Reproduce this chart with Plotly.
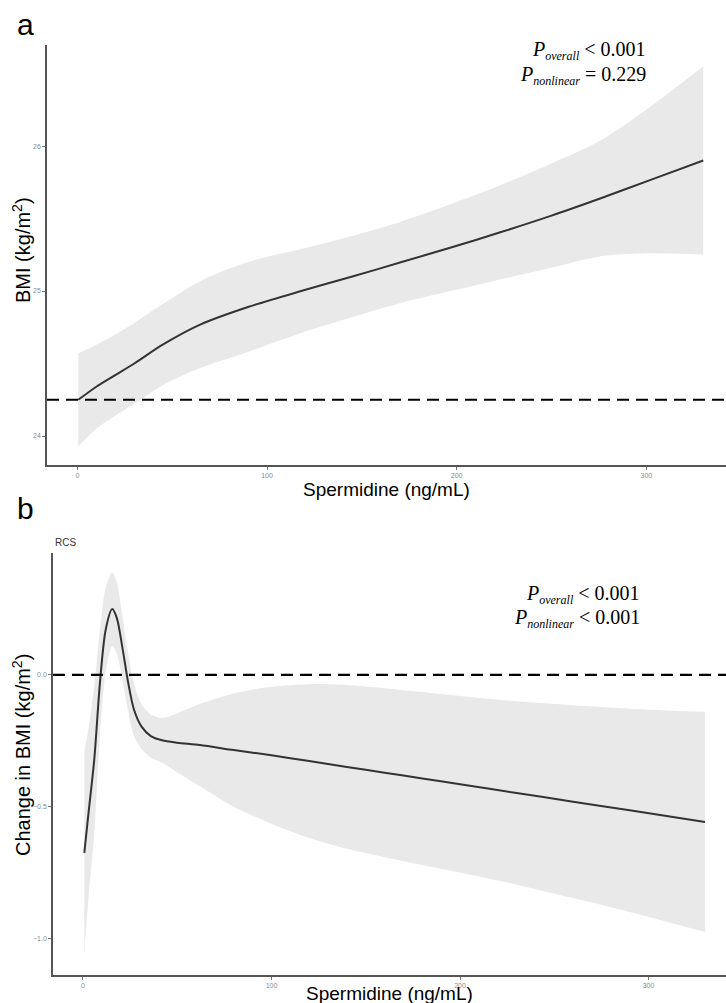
import plotly.graph_objects as go

W, H = 726, 1003

# ---------------- Panel a data (BMI vs spermidine) ----------------
x_a = [0.5, 10, 20, 30, 45, 65, 90, 118, 145, 171, 197, 223, 250, 276, 303, 330]
bmi_fit = [24.25, 24.34, 24.42, 24.50, 24.63, 24.77, 24.89, 25.00, 25.10, 25.20,
           25.30, 25.405, 25.52, 25.64, 25.77, 25.90]
bmi_upper = [24.57, 24.63, 24.70, 24.78, 24.91, 25.07, 25.20, 25.29, 25.38, 25.48,
             25.60, 25.73, 25.88, 26.04, 26.28, 26.55]
bmi_lower = [23.93, 24.05, 24.14, 24.22, 24.35, 24.47, 24.58, 24.71, 24.82, 24.92,
             25.00, 25.08, 25.16, 25.24, 25.26, 25.25]
ref_a = 24.25

# ---------------- Panel b data (change in BMI) ----------------
x_b = [0.7, 3, 6, 9, 12, 15.5, 18, 21, 24, 27, 31, 36, 42, 50, 62, 80, 100, 120,
       140, 160, 180, 200, 230, 260, 290, 330]
chg_fit = [-0.675, -0.52, -0.32, -0.03, 0.17, 0.25, 0.215, 0.10, -0.03, -0.13,
           -0.195, -0.232, -0.248, -0.257, -0.266, -0.285, -0.305, -0.327, -0.349,
           -0.371, -0.393, -0.415, -0.448, -0.481, -0.514, -0.558]
chg_upper = [-0.29, -0.20, -0.04, 0.17, 0.33, 0.39, 0.35, 0.22, 0.08, -0.03,
             -0.11, -0.15, -0.163, -0.145, -0.11, -0.07, -0.045, -0.035, -0.038,
             -0.05, -0.065, -0.08, -0.10, -0.115, -0.128, -0.14]
chg_lower = [-1.056, -0.84, -0.60, -0.23, 0.01, 0.11, 0.08, -0.02, -0.14, -0.23,
             -0.28, -0.314, -0.333, -0.369, -0.422, -0.50, -0.565, -0.619, -0.66,
             -0.692, -0.721, -0.75, -0.796, -0.847, -0.90, -0.976]
ref_b = 0.0

x_ticks = [0, 100, 200, 300]
y_ticks_a = [24, 25, 26]
y_ticks_b = [-1.0, -0.5, 0.0]
y_ticktext_b = ["\u22121.0", "\u22120.5", "0.0"]

RIBBON = "#e9e9e9"
LINE = "#333333"

fig = go.Figure()

def add_panel(x, lo, up, fit, xa, ya):
    fig.add_trace(go.Scatter(x=x, y=lo, mode="lines", line=dict(width=0, shape="spline", smoothing=0.8),
                             xaxis=xa, yaxis=ya, hoverinfo="skip"))
    fig.add_trace(go.Scatter(x=x, y=up, mode="lines", line=dict(width=0, shape="spline", smoothing=0.8),
                             fill="tonexty", fillcolor=RIBBON, xaxis=xa, yaxis=ya, hoverinfo="skip"))
    fig.add_trace(go.Scatter(x=x, y=fit, mode="lines",
                             line=dict(color=LINE, width=2, shape="spline", smoothing=0.8),
                             xaxis=xa, yaxis=ya))

add_panel(x_a, bmi_lower, bmi_upper, bmi_fit, "x", "y")
add_panel(x_b, chg_lower, chg_upper, chg_fit, "x2", "y2")

for yref, xref, val in [("y", "x domain", ref_a), ("y2", "x2 domain", ref_b)]:
    fig.add_shape(type="line", xref=xref, yref=yref, x0=0, x1=1, y0=val, y1=val,
                  line=dict(color="black", width=2.2, dash="12px,7px"))

axis_common = dict(showgrid=False, zeroline=False, showline=True, linecolor="#555555",
                   linewidth=1.5, ticks="outside", ticklen=3, tickwidth=1, tickcolor="#777777",
                   tickfont=dict(family="Liberation Sans, Arial", size=7, color="#8a8a8a"))

def px_y(p):
    return 1 - p / H

fig.update_layout(
    width=W, height=H, margin=dict(l=0, r=0, t=0, b=0),
    paper_bgcolor="white", plot_bgcolor="white", showlegend=False,
    xaxis=dict(domain=[47 / W, 1], range=[-16, 342], tickvals=x_ticks, anchor="y", **axis_common),
    yaxis=dict(domain=[px_y(465), px_y(45)], range=[23.8, 26.697], tickvals=y_ticks_a,
               anchor="x", **axis_common),
    xaxis2=dict(domain=[53 / W, 1], range=[-15.9, 341.1], tickvals=x_ticks, anchor="y2", **axis_common),
    yaxis2=dict(domain=[px_y(975), px_y(553)], range=[-1.139, 0.463], tickvals=y_ticks_b,
                ticktext=y_ticktext_b, anchor="x2", **axis_common),
)

sans = "Liberation Sans, Arial, sans-serif"
serif = "Liberation Serif, Times New Roman, serif"

def ann(text, xp, yp, size, family=sans, angle=0, xanchor="center", yanchor="middle", color="black"):
    fig.add_annotation(text=text, x=xp / W, y=px_y(yp), xref="paper", yref="paper",
                       showarrow=False, textangle=angle, xanchor=xanchor, yanchor=yanchor,
                       font=dict(family=family, size=size, color=color))

ann("a", 25, 24, 30)
ann("b", 25, 508, 30)
ann("RCS", 65, 542, 10, color="#333333")
ann("Spermidine (ng/mL)", (47 + W) / 2, 490, 19)
ann("Spermidine (ng/mL)", (53 + W) / 2, 993, 19)
ann("BMI (kg/m<sup>2</sup>)", 21, 250, 20, angle=-90)
ann("Change in BMI (kg/m<sup>2</sup>)", 21, 755, 20, angle=-90)

def sub(s):
    return "<sub><i><span style='font-size:12px'>" + s + "</span></i></sub>"

ann("<i>P</i>" + sub("overall") + " &lt; 0.001", 648, 51, 20, family=serif, xanchor="right")
ann("<i>P</i>" + sub("nonlinear") + " = 0.229", 648, 76, 20, family=serif, xanchor="right")
ann("<i>P</i>" + sub("overall") + " &lt; 0.001", 642, 594, 20, family=serif, xanchor="right")
ann("<i>P</i>" + sub("nonlinear") + " &lt; 0.001", 642, 618, 20, family=serif, xanchor="right")

fig.write_html("out.html", config={"displayModeBar": False},
               post_script="document.body.style.margin='0';document.body.style.padding='0';"
                           "document.body.style.overflow='hidden';")
